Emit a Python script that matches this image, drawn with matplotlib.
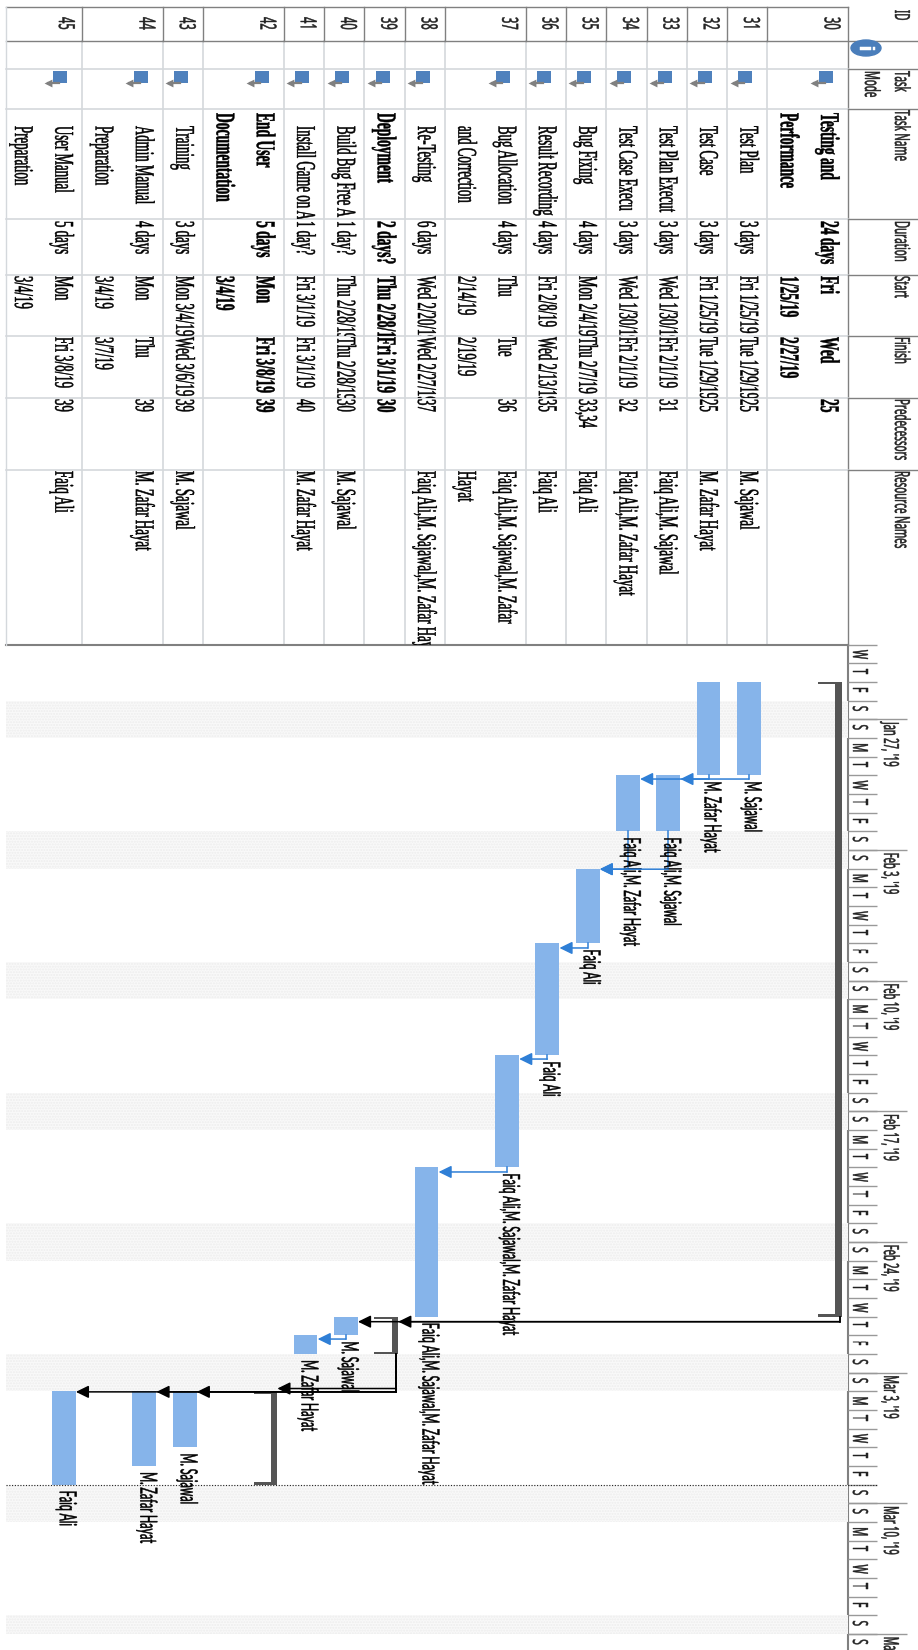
import matplotlib
matplotlib.use("Agg")
import matplotlib.dates as mdates
import matplotlib.patheffects as pe
import matplotlib.pyplot as plt
import numpy as np
import pandas as pd
from matplotlib.patches import Ellipse
from matplotlib.text import Text
from matplotlib.transforms import Affine2D, Bbox

# task sheet, one entry per row, a newline means the cell wraps to a second line
task_ids = [30, 31, 32, 33, 34, 35, 36, 37, 38, 39, 40, 41, 42, 43, 44, 45]
line_counts = [2, 1, 1, 1, 1, 1, 1, 2, 1, 1, 1, 1, 2, 1, 2, 2]
summary_ids = [30, 39, 42]
task_names = ["Testing and\nPerformance", "Test Plan", "Test Case", "Test Plan Execut",
              "Test Case Execu", "Bug Fixing", "Result Recording", "Bug Allocation\nand Correction",
              "Re-Testing", "Deployment", "Build Bug Free A", "Install Game on A",
              "End User\nDocumentation", "Training", "Admin Manual\nPreparation", "User Manual\nPreparation"]
durations = ["24 days", "3 days", "3 days", "3 days", "3 days", "4 days", "4 days", "4 days",
             "6 days", "2 days?", "1 day?", "1 day?", "5 days", "3 days", "4 days", "5 days"]
starts = ["Fri\n1/25/19", "Fri 1/25/19", "Fri 1/25/19", "Wed 1/30/19", "Wed 1/30/19", "Mon 2/4/19",
          "Fri 2/8/19", "Thu\n2/14/19", "Wed 2/20/19", "Thu 2/28/19", "Thu 2/28/19", "Fri 3/1/19",
          "Mon\n3/4/19", "Mon 3/4/19", "Mon\n3/4/19", "Mon\n3/4/19"]
finishes = ["Wed\n2/27/19", "Tue 1/29/19", "Tue 1/29/19", "Fri 2/1/19", "Fri 2/1/19", "Thu 2/7/19",
            "Wed 2/13/19", "Tue\n2/19/19", "Wed 2/27/19", "Fri 3/1/19", "Thu 2/28/19", "Fri 3/1/19",
            "Fri 3/8/19", "Wed 3/6/19", "Thu\n3/7/19", "Fri 3/8/19"]
predecessors = ["25", "25", "25", "31", "32", "33,34", "35", "36", "37", "30", "30", "40",
                "39", "39", "39", "39"]
resources = ["", "M. Sajawal", "M. Zafar Hayat", "Faiq Ali,M. Sajawal", "Faiq Ali,M. Zafar Hayat",
             "Faiq Ali", "Faiq Ali", "Faiq Ali,M. Sajawal,M. Zafar\nHayat",
             "Faiq Ali,M. Sajawal,M. Zafar Hayat", "", "M. Sajawal", "M. Zafar Hayat", "",
             "M. Sajawal", "M. Zafar Hayat", "Faiq Ali"]
# where each dependency line runs, days after the start of the task it leads to
link_offsets = [0, 0, 0, 0.2, 0.2, 0.03, 0.25, 0.2, 0.25, 0.27, 0.27, 0.2, -0.15, 0.03, 0.03, 0.03]

headers = ["ID", "Task", "Mode", "Task Name", "Duration", "Start", "Finish", "Predecessors", "Resource Names"]
day_letters = ["M", "T", "W", "T", "F", "S", "S"]

timescale_start = "2019-01-23"
timescale_end = "2019-03-17"
status_date = "2019-03-09"

BAR = "#86B4EA"
LINK = "#2F7FD6"
SUMMARY = "#555555"
GRID = "#D4D8DC"
DARK = "#808080"

# the sheet lies on its side, one text line is 40.3 px across and x=848 is the pane edge
LINE_PX = 40.3
EDGE_PX = 848
DAY_PX = 18.667
SUNDAY_PX = 719.3


def line_x(px):
    return (EDGE_PX - px) / LINE_PX


class Squeezed(pe.AbstractPathEffect):
    # narrows the glyphs along the baseline and thickens them a little
    def __init__(self, factor, stroke=0.35):
        super().__init__()
        self.factor = factor
        self.stroke = stroke

    def draw_path(self, renderer, gc, tpath, affine, rgbFace=None):
        gc0 = renderer.new_gc()
        gc0.copy_properties(gc)
        gc0.set_linewidth(self.stroke)
        gc0.set_foreground(rgbFace)
        renderer.draw_path(gc0, tpath, Affine2D().scale(self.factor, 1) + affine, rgbFace)
        gc0.restore()


class NarrowText(Text):
    # rotated 270 degrees, so the text starts at the top of its box
    def __init__(self, x, y, s, factor, **kw):
        super().__init__(x, y, s, rotation=270, rotation_mode="anchor", ha="left", va="baseline",
                         path_effects=[Squeezed(factor)], **kw)
        self.factor = factor

    def get_window_extent(self, renderer=None, dpi=None):
        box = super().get_window_extent(renderer, dpi)
        return Bbox.from_extents(box.x0, box.y1 - box.height * self.factor, box.x1, box.y1)


def put(ax, x, y, s, squeeze, clip_to=None, **kw):
    t = NarrowText(x, y, s, squeeze, **kw)
    ax.add_artist(t)
    t.set_clip_on(clip_to is not None)
    if clip_to is not None:
        t.set_clip_box(Bbox([[0, 1650 - clip_to], [918, 1650]]))
    return t


def day_num(cell):
    return mdates.date2num(pd.to_datetime(cell.split()[-1], format="%m/%d/%y"))


fig = plt.figure(figsize=(9.18, 16.5), dpi=100)
ax_table = fig.add_axes([0, 0, 1, 1])
ax_chart = fig.add_axes([0, 0, 1, 1])
for ax in (ax_table, ax_chart):
    ax.set_xlim(line_x(0), line_x(918))
    ax.axis("off")
ax_table.set_ylim(1650, 0)
sunday = mdates.date2num(pd.Timestamp("2019-01-27"))
ax_chart.set_ylim(sunday + (1650 - SUNDAY_PX) / DAY_PX, sunday - SUNDAY_PX / DAY_PX)

row_top = np.concatenate(([0], np.cumsum(line_counts)[:-1]))
row_bottom = np.cumsum(line_counts)
pane_left = line_x(6)

# sheet grid
for edge in row_bottom[:-1]:
    ax_table.plot([edge, edge], [41, 645], color=GRID, lw=1.2, zorder=1)
    ax_table.plot([edge, edge], [7, 41], color=DARK, lw=1, zorder=1)
ax_table.plot([0, 0], [7, 645], color=DARK, lw=1, zorder=1)
for col_y in [69, 109, 219, 275, 336, 398, 470]:
    ax_table.plot([pane_left, 0], [col_y, col_y], color=GRID, lw=1.2, zorder=1)
    ax_table.plot([0, line_x(918)], [col_y, col_y], color=DARK, lw=1, zorder=1)
ax_table.plot([pane_left, line_x(918)], [41, 41], color=DARK, lw=1, zorder=1)
ax_table.plot([pane_left, 0], [7, 7], color=DARK, lw=1, zorder=1)
ax_table.plot([pane_left, 0], [645, 645], color=DARK, lw=1.5, zorder=1)
ax_table.plot([0, 0], [645, 1650], color=DARK, lw=1.5, zorder=1)
ax_table.plot([pane_left, pane_left], [7, 645], color=GRID, lw=1, zorder=1)

# column headers
header_font = dict(family="Noto Sans", fontsize=15, color="#222222")
header_pos = [(895, 10), (895, 71), (865, 71), (895, 110), (895, 221), (895, 276), (895, 337), (895, 399), (895, 471)]
for label, (px, py) in zip(headers, header_pos):
    put(ax_table, line_x(px), py, label, 0.47, **header_font)
ax_table.add_patch(Ellipse((line_x(866), 48), 30 / LINE_PX, 16, color="#4A7EBB", zorder=3))
put(ax_table, line_x(860), 46, "i", 0.9, family="Liberation Sans", fontsize=15, weight="bold", color="white", zorder=4)

# sheet rows
for i, top in enumerate(row_top):
    bold = task_ids[i] in summary_ids
    serif = dict(family="Liberation Serif", fontsize=19.5, weight="bold" if bold else "normal", color="black")
    squeeze = 0.5 if bold else 0.475
    put(ax_table, top + 0.58, 17, str(task_ids[i]), 0.5, family="Noto Sans", fontsize=16, color="#222222")
    # task mode pin
    ax_table.bar(top + 0.55, 12, width=14 / LINE_PX, bottom=71, color="#4F81BD", zorder=3)
    ax_table.plot([top + 0.58, top + 0.84], [83, 83], color="#808080", lw=1.6, zorder=3)
    ax_table.scatter([top + 0.84], [83], marker="<", s=32, color="#808080", linewidths=0, zorder=3)
    columns = [(task_names[i], 113 if bold else 126, 219), (durations[i], 221, 275), (starts[i], 276, 336),
               (finishes[i], 337, 398), (predecessors[i], 399, 470), (resources[i], 471, 645)]
    for text, start_y, end_y in columns:
        for n, part in enumerate(text.split("\n")):
            put(ax_table, top + n + 0.67, start_y, part, squeeze, clip_to=end_y, **serif)

# non working days
for saturday in pd.date_range("2019-01-26", timescale_end, freq="7D"):
    first = mdates.date2num(saturday)
    last = min(first + 2, mdates.date2num(pd.Timestamp(timescale_end)))
    ax_chart.bar((pane_left + 0) / 2, last - first, width=pane_left, bottom=first,
                 facecolor="#F9F9F9", edgecolor="#EDEDED", hatch="......", linewidth=0, zorder=1)

# timescale
days = pd.date_range(timescale_start, timescale_end)
day_nums = mdates.date2num(days)
ax_chart.hlines(day_nums, 0, line_x(877), color="#999999", lw=1, zorder=2)
sundays = day_nums[days.dayofweek == 6]
ax_chart.hlines(sundays, 0, line_x(907), color="#999999", lw=1, zorder=2)
for day, num in zip(days, day_nums):
    put(ax_chart, line_x(853), num + 0.28, day_letters[day.dayofweek], 0.48,
        family="Noto Sans", fontsize=15, color="#222222", zorder=3)
for day, num in zip(days[days.dayofweek == 6], sundays):
    put(ax_chart, line_x(884), num + 0.15, day.strftime("%b ") + str(day.day) + day.strftime(", '%y"), 0.45,
        family="Noto Sans", fontsize=15, color="#222222", zorder=3)

# task bars and summary brackets, each sits on the first line of its row
start_days = np.array([day_num(s) for s in starts])
end_days = np.array([day_num(f) + 1 for f in finishes])
centers = row_top + 0.46
is_summary = np.array([t in summary_ids for t in task_ids])

ax_chart.bar(centers[~is_summary], (end_days - start_days)[~is_summary], width=0.59,
             bottom=start_days[~is_summary], color=BAR, zorder=3)
ax_chart.bar(centers[is_summary] - 0.22, (end_days - start_days)[is_summary], width=0.16,
             bottom=start_days[is_summary], color=SUMMARY, zorder=3)
ax_chart.bar(centers[is_summary], 0.13, width=0.58, bottom=start_days[is_summary], color=SUMMARY, zorder=3)
ax_chart.bar(centers[is_summary], 0.13, width=0.58, bottom=end_days[is_summary] - 0.13, color=SUMMARY, zorder=3)

# resource labels after each bar
for i, who in enumerate(resources):
    if who:
        put(ax_chart, centers[i] + 0.1, end_days[i] + 0.33, who.replace("\n", " "), 0.455,
            family="Lato", fontsize=17, color="black", zorder=5)

# dependency links
row_of = {t: i for i, t in enumerate(task_ids)}
for i, preds in enumerate(predecessors):
    for pred in preds.split(","):
        p = row_of.get(int(pred))
        if p is None:
            continue
        link_y = start_days[i] + link_offsets[i]
        color = "black" if is_summary[p] else LINK
        from_x = centers[p] - 0.25 if is_summary[p] else centers[p]
        to_x = centers[i] - 0.3
        ax_chart.plot([from_x, from_x], [end_days[p], link_y], color=color, lw=1.1, zorder=4)
        ax_chart.annotate("", xy=(to_x, link_y), xytext=(from_x, link_y), zorder=6,
                          arrowprops=dict(arrowstyle="-|>,head_length=0.55,head_width=0.27", mutation_scale=14,
                                          shrinkA=0, shrinkB=0, color=color, lw=1.1))

# status date
status = mdates.date2num(pd.Timestamp(status_date))
ax_chart.plot([pane_left, line_x(877)], [status, status], color="#222222", lw=0.8, ls=(0, (1, 1.5)), zorder=5)

fig.savefig("out.png", dpi=100)
